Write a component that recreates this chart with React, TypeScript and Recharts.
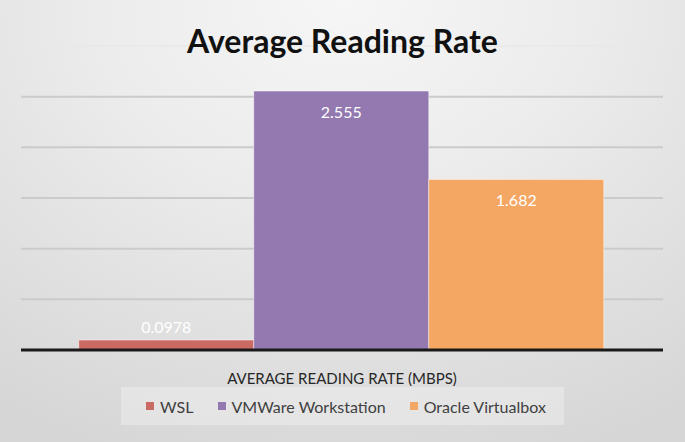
import React from "react";
import {
  Bar,
  BarChart,
  CartesianGrid,
  LabelList,
  Legend,
  ReferenceLine,
  XAxis,
  YAxis,
} from "recharts";

const category = "AVERAGE READING RATE (MBPS)";
const seriesKeys = ["wsl", "vmware", "oracle"];
const seriesNames = ["WSL", "VMWare Workstation", "Oracle Virtualbox"];
const seriesValues = [0.0978, 2.555, 1.682];
const seriesColors = ["#cb6a62", "#9379b0", "#f4a663"];
const gridTicks = [0, 0.5, 1, 1.5, 2, 2.5];

const row: Record<string, string | number> = { name: category };
seriesKeys.forEach((k, i) => {
  row[k] = seriesValues[i];
});
const data = [row];

const font = "Lato, 'Open Sans', sans-serif";

function ValueLabel(props: any) {
  const { x, y, width, height, value } = props;
  const inside = height > 30;
  return (
    <text
      x={x + width / 2}
      y={inside ? y + 20 : y - 14}
      fill="#ffffff"
      fontSize={16}
      fontFamily={font}
      textAnchor="middle"
      dominantBaseline="central"
    >
      {String(value)}
    </text>
  );
}

function LegendBox() {
  return (
    <div style={{ display: "flex", justifyContent: "center" }}>
      <div
        style={{
          display: "flex",
          alignItems: "center",
          gap: 24,
          padding: "0 18px 0 25px",
          height: 38,
          background: "rgba(255,255,255,0.28)",
          fontFamily: font,
          fontSize: 16,
          color: "#404040",
        }}
      >
        {seriesNames.map((n, i) => (
          <div key={n} style={{ display: "flex", alignItems: "center" }}>
            <span
              style={{
                width: 8,
                height: 8,
                background: seriesColors[i],
                marginRight: 6,
                display: "inline-block",
              }}
            />
            <span>{n}</span>
          </div>
        ))}
      </div>
    </div>
  );
}

export default function App() {
  return (
    <div
      style={{
        width: 685,
        height: 442,
        position: "relative",
        background:
          "radial-gradient(ellipse 90% 110% at 50% 0%, #f6f6f6 0%, #ececec 40%, #d6d6d6 100%)",
      }}
    >
      <style>{`body{margin:0}`}</style>
      <BarChart
        width={685}
        height={442}
        data={data}
        margin={{ top: 46, right: 22, left: 21, bottom: 0 }}
        barCategoryGap="9%"
        barGap={0}
      >
        <CartesianGrid
          vertical={false}
          stroke="#cbcbcb"
          strokeWidth={2}
          horizontalValues={gridTicks}
        />
        <YAxis hide domain={[0, 3]} ticks={gridTicks} />
        <ReferenceLine y={3} stroke="#e8e8e8" strokeWidth={1.5} />
        <XAxis
          dataKey="name"
          height={92}
          tickLine={false}
          tickMargin={17}
          axisLine={{ stroke: "#1a1a1a", strokeWidth: 3 }}
          tick={{ fill: "#262626", fontSize: 15, fontFamily: font }}
        />
        {seriesKeys.map((k, i) => (
          <Bar
            key={k}
            dataKey={k}
            name={seriesNames[i]}
            fill={seriesColors[i]}
            stroke="rgba(255,255,255,0.45)"
            strokeWidth={1}
            isAnimationActive={false}
          >
            <LabelList dataKey={k} content={ValueLabel} />
          </Bar>
        ))}
        <Legend
          verticalAlign="middle"
          content={() => <LegendBox />}
          wrapperStyle={{ top: 387, left: 0, width: 685 }}
        />
      </BarChart>
      <div
        style={{
          position: "absolute",
          top: 21,
          left: 0,
          width: 685,
          zIndex: 2,
          textAlign: "center",
          fontFamily: font,
          fontWeight: 700,
          fontSize: 32,
          lineHeight: "40px",
          color: "#111111",
          pointerEvents: "none",
        }}
      >
        Average Reading Rate
      </div>
    </div>
  );
}
